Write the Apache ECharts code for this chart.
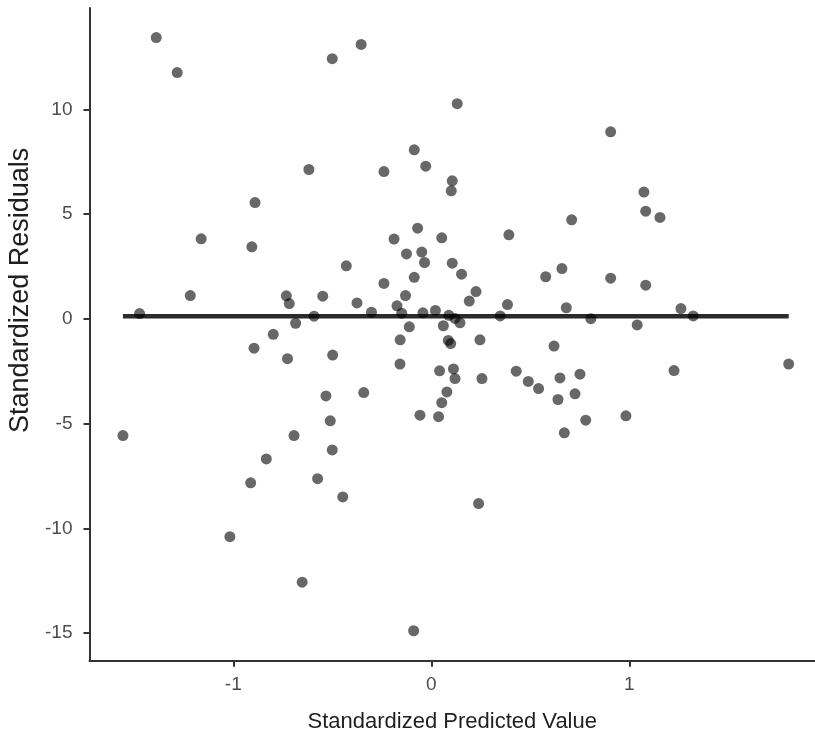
<!DOCTYPE html>
<html>
<head>
<meta charset="utf-8">
<script src="https://cdn.jsdelivr.net/npm/echarts@6/dist/echarts.min.js"></script>
<style>
html,body{margin:0;padding:0;background:#fff;}
#chart{width:815px;height:734px;}
</style>
</head>
<body>
<div id="chart"></div>
<script>
const predicted = [-1.389,-1.283,-0.500,-0.354,-0.086,-0.618,-0.239,-0.890,-1.162,-0.906,
  -0.188,-0.069,-0.125,-0.048,-0.429,-0.239,-0.086,-1.217,-0.732,-0.717,
  -0.548,-0.375,-0.130,-0.173,-0.302,-0.149,-1.473,-0.592,-0.685,-0.798,
  -0.111,-0.157,-0.895,0.131,0.906,-0.028,0.106,0.101,1.074,1.083,
  1.155,0.709,0.053,0.392,-0.034,0.106,0.153,0.660,0.578,0.906,
  1.083,0.226,0.192,0.385,0.682,1.261,-0.042,0.021,0.089,0.120,
  0.145,0.348,0.806,1.323,1.040,0.061,0.086,0.098,0.246,0.620,
  -0.726,-0.498,-0.158,-0.532,-0.341,-1.557,-0.510,-0.693,-0.500,-0.833,
  -0.912,-0.574,-0.447,-1.017,-0.652,-0.089,0.042,0.112,0.120,0.256,
  0.429,0.490,0.542,0.650,0.751,0.640,0.726,0.079,0.053,-0.057,
  0.037,0.780,0.672,0.983,1.226,1.805,0.239];
const residuals = [13.43,11.76,12.42,13.10,8.07,7.13,7.03,5.55,3.82,3.44,
  3.81,4.33,3.10,3.19,2.53,1.69,1.98,1.11,1.10,0.73,
  1.08,0.76,1.11,0.62,0.32,0.27,0.25,0.13,-0.21,-0.74,
  -0.38,-1.00,-1.40,10.27,8.93,7.29,6.59,6.11,6.05,5.14,
  4.84,4.73,3.87,4.01,2.69,2.66,2.13,2.40,2.01,1.94,
  1.61,1.30,0.85,0.68,0.53,0.49,0.29,0.40,0.17,0.02,
  -0.19,0.14,0.01,0.14,-0.29,-0.33,-1.03,-1.18,-1.00,-1.30,
  -1.90,-1.73,-2.16,-3.68,-3.52,-5.57,-4.87,-5.57,-6.26,-6.69,
  -7.83,-7.63,-8.50,-10.40,-12.57,-14.89,-2.48,-2.39,-2.85,-2.85,
  -2.50,-2.99,-3.33,-2.82,-2.64,-3.85,-3.58,-3.49,-4.00,-4.60,
  -4.67,-4.84,-5.44,-4.63,-2.47,-2.16,-8.82];
const refLineY = 0.13;
const xTicks = [-1, 0, 1];
const yTicks = [-15, -10, -5, 0, 5, 10];
const xTitle = 'Standardized Predicted Value';
const yTitle = 'Standardized Residuals';

const points = predicted.map((x, i) => [x, residuals[i]]);
const xMinData = Math.min(...predicted);
const xMaxData = Math.max(...predicted);
const lineData = [[xMinData, refLineY], [xMaxData, refLineY]];

const chart = echarts.init(document.getElementById('chart'), null, {renderer: 'canvas'});
const font = 'Liberation Sans, Arial, sans-serif';
chart.setOption({
  backgroundColor: '#ffffff',
  animation: false,
  grid: {left: 89.5, right: 0, top: 8, bottom: 73.3, containLabel: false, outerBoundsMode: 'none'},
  xAxis: {
    type: 'value', min: -1.726, max: 1.938,
    name: xTitle, nameLocation: 'middle', nameGap: 50,
    nameTextStyle: {fontFamily: font, fontSize: 22, color: '#1f1f1f'},
    splitLine: {show: false},
    axisLine: {show: true, onZero: false, lineStyle: {color: '#333', width: 2}},
    axisTick: {show: true, length: 6, lineStyle: {color: '#333', width: 2}, customValues: xTicks},
    axisLabel: {fontFamily: font, fontSize: 19, color: '#4d4d4d', margin: 15, customValues: xTicks}
  },
  yAxis: {
    type: 'value', min: -16.32, max: 14.84,
    name: yTitle, nameLocation: 'middle', nameGap: 52, nameRotate: 90,
    nameTextStyle: {fontFamily: font, fontSize: 27, color: '#1f1f1f', padding: [0, 0, 0, 88]},
    splitLine: {show: false},
    axisLine: {show: true, onZero: false, lineStyle: {color: '#333', width: 2}},
    axisTick: {show: true, length: 6, lineStyle: {color: '#333', width: 2}, customValues: yTicks},
    axisLabel: {fontFamily: font, fontSize: 19, color: '#4d4d4d', margin: 17, customValues: yTicks}
  },
  series: [
    {
      type: 'line', data: lineData, symbol: 'none', z: 1,
      lineStyle: {color: '#2b2b2b', width: 4.5}, silent: true
    },
    {
      type: 'scatter', data: points, symbol: 'circle', symbolSize: 11, z: 2,
      itemStyle: {color: 'rgba(0,0,0,0.74)'}
    }
  ]
});
</script>
</body>
</html>
